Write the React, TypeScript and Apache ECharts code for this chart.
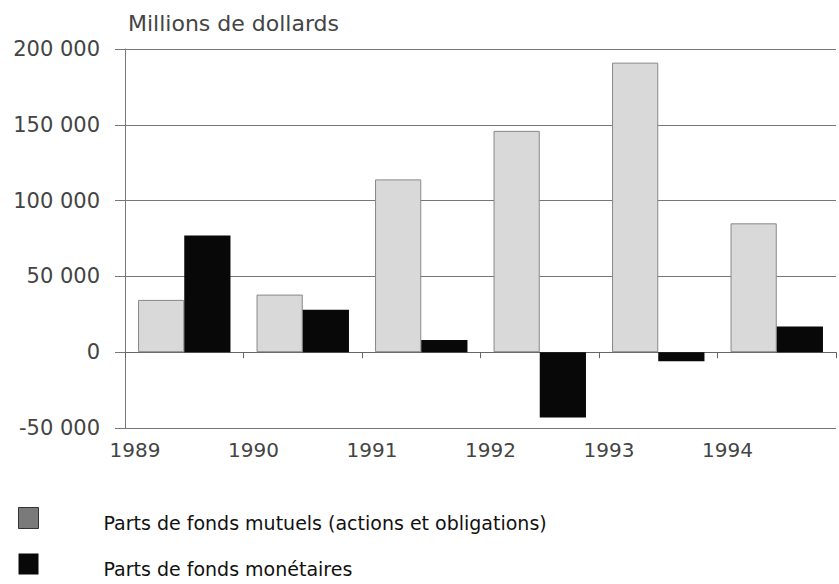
import React, { useEffect, useRef } from "react";
import * as echarts from "echarts";

// Annual net sales, millions of dollars
const years = ["1989", "1990", "1991", "1992", "1993", "1994"];
const mutualFunds = [34500, 38000, 114000, 146000, 191000, 85000];
const moneyMarketFunds = [77000, 28000, 8000, -43000, -6000, 17000];
const seriesNames = [
  "Parts de fonds mutuels (actions et obligations)",
  "Parts de fonds monétaires",
];
const yTicks = { min: -50000, max: 200000, step: 50000 };
const unitLabel = "Millions de dollards";

const FONT = "DejaVu Sans";

const formatThousands = (v: number) => {
  const s = String(Math.abs(v)).replace(/\B(?=(\d{3})+(?!\d))/g, " ");
  return v < 0 ? "-" + s : s;
};

export default function App() {
  const ref = useRef<HTMLDivElement>(null);

  useEffect(() => {
    if (!ref.current) return;
    const chart = echarts.init(ref.current, null, { renderer: "svg" });
    chart.setOption({
      animation: false,
      backgroundColor: "#ffffff",
      grid: { left: 125, right: 1, top: 49, bottom: 156, containLabel: false },
      legend: {
        orient: "vertical",
        left: 18,
        top: 507,
        padding: 0,
        itemWidth: 20,
        itemHeight: 21,
        itemGap: 21,
        icon: "rect",
        selectedMode: false,
        data: [
          {
            name: seriesNames[0],
            itemStyle: { color: "#7a7a7a", borderColor: "#333", borderWidth: 1 },
          },
          { name: seriesNames[1], itemStyle: { color: "#080808" } },
        ],
        formatter: (name: string) => "{t|" + name + "}",
        textStyle: {
          fontFamily: FONT,
          fontSize: 19,
          color: "#111",
          rich: {
            t: {
              fontFamily: FONT,
              fontSize: 19,
              color: "#111",
              padding: [10, 0, 0, 60],
            },
          },
        },
      },
      xAxis: [
        {
          type: "category",
          data: years,
          axisLine: { onZero: true, lineStyle: { color: "#666", width: 1 } },
          axisTick: { show: true, length: 6, lineStyle: { color: "#666" } },
          axisLabel: { show: false },
          splitLine: { show: false },
        },
        {
          type: "value",
          position: "bottom",
          min: 0,
          max: years.length,
          interval: 1,
          axisLine: { show: false },
          axisTick: { show: false },
          splitLine: { show: false },
          axisLabel: {
            fontFamily: FONT,
            fontSize: 20,
            color: "#444",
            margin: 12,
            padding: [0, 0, 0, 20],
            formatter: (v: number) => years[v] ?? "",
          },
        },
      ],
      yAxis: {
        type: "value",
        min: yTicks.min,
        max: yTicks.max,
        interval: yTicks.step,
        name: unitLabel,
        nameLocation: "end",
        nameGap: 15,
        nameTextStyle: {
          fontFamily: FONT,
          fontSize: 22,
          color: "#444",
          align: "left",
          padding: [0, 0, 0, 3],
        },
        axisLine: { show: true, lineStyle: { color: "#777", width: 1 } },
        axisTick: { show: true, length: 10, lineStyle: { color: "#777" } },
        splitLine: { show: true, lineStyle: { color: "#777", width: 1 } },
        axisLabel: {
          fontFamily: FONT,
          fontSize: 21,
          color: "#444",
          margin: 25,
          formatter: (v: number) => formatThousands(v),
        },
      },
      series: [
        {
          name: seriesNames[0],
          type: "bar",
          data: mutualFunds,
          barGap: "0%",
          barCategoryGap: "22%",
          itemStyle: { color: "#d9d9d9", borderColor: "#888", borderWidth: 1 },
        },
        {
          name: seriesNames[1],
          type: "bar",
          data: moneyMarketFunds,
          barGap: "0%",
          barCategoryGap: "22%",
          itemStyle: { color: "#080808" },
        },
      ],
    });
    return () => chart.dispose();
  }, []);

  return (
    <div
      ref={ref}
      style={{ position: "fixed", left: 0, top: 0, width: 839, height: 584 }}
    />
  );
}
